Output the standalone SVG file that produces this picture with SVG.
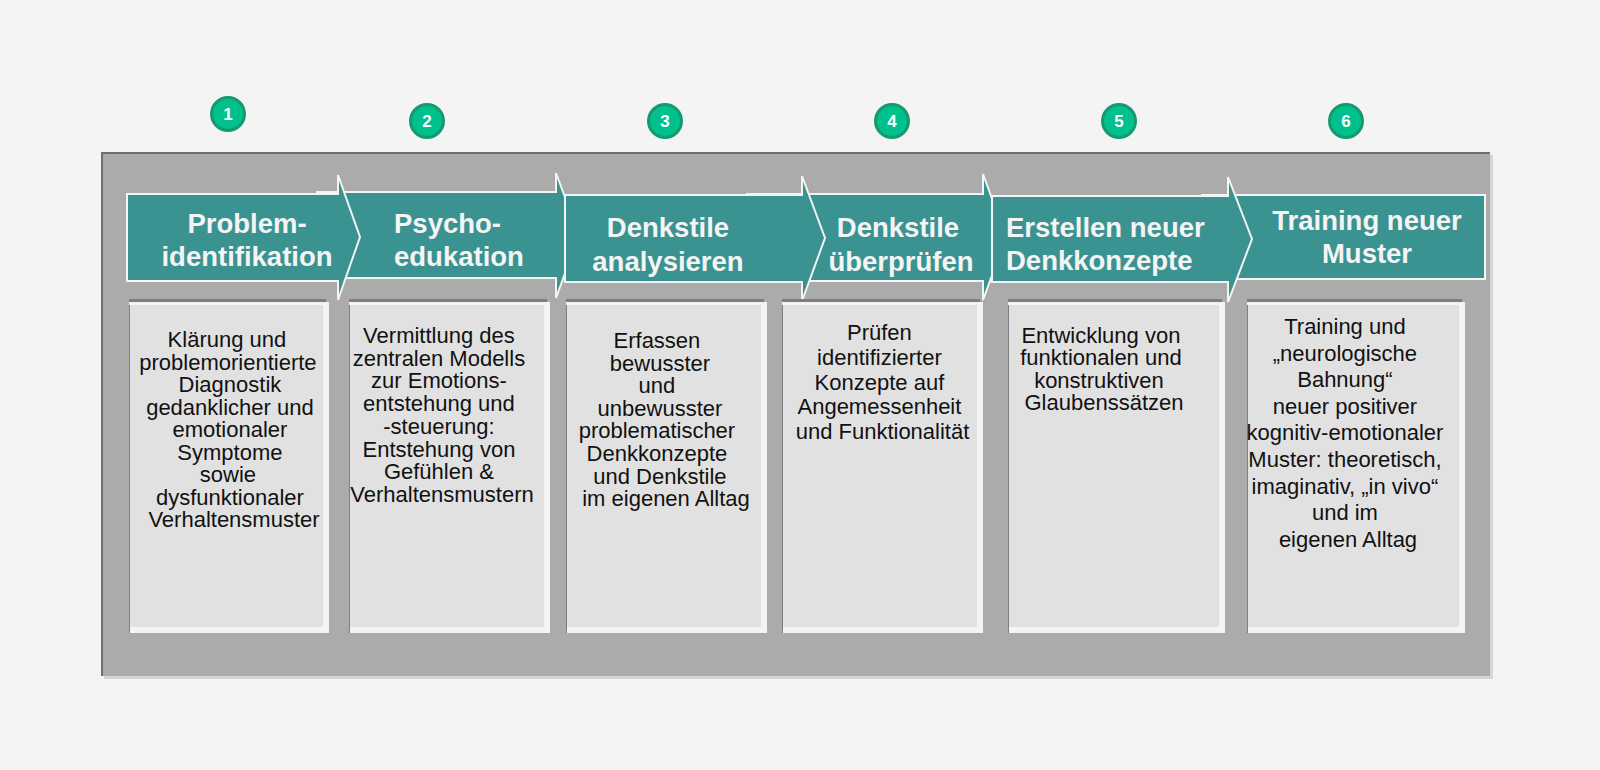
<svg xmlns="http://www.w3.org/2000/svg" width="1600" height="770" viewBox="0 0 1600 770">
<style>
.arrow{fill:#3a9390;stroke:#f4f4f4;stroke-width:2;stroke-linejoin:miter}
.head{font-family:"Liberation Sans",Arial,sans-serif;font-weight:bold;font-size:27.5px;fill:#f4f4f4}
.body{font-family:"Liberation Sans",Arial,sans-serif;font-size:22px;fill:#111}
.num{font-family:"Liberation Sans",Arial,sans-serif;font-weight:bold;font-size:17px;fill:#ffffff;text-anchor:middle}
.ring{fill:#00c08e;stroke:#159a6e;stroke-width:3}
.bar{fill:#7f7f7f}
.shadow{fill:#f4f4f4}
.card{fill:#e1e1e1}
.edge{fill:#808080}
</style>
<rect width="1600" height="770" fill="#f4f4f4"/>
<g id="panel">
<rect x="104" y="155" width="1389" height="524" fill="#d6d6d6"/>
<rect x="101" y="152" width="1389" height="524" fill="#ababab"/>
<rect x="101" y="152" width="1389" height="2" fill="#6f6f6f"/>
<rect x="101" y="152" width="2" height="524" fill="#6f6f6f"/>
</g>
<g id="connectors">
<polygon id="arrow2" class="arrow" points="317,192 556,192 556,173 579,235 556,298 556,278 317,278"/>
<polygon id="arrow4" class="arrow" points="747,194 983,194 983,174 1006,237 983,300 983,281 747,281"/>
<rect id="arrow6" class="arrow" x="1202" y="195" width="283" height="84"/>
<polygon id="arrow1" class="arrow" points="127,194 338,194 338,175 360,237 338,300 338,281 127,281"/>
<polygon id="arrow3" class="arrow" points="565,195 802,195 802,176 825,238 802,301 802,282 565,282"/>
<polygon id="arrow5" class="arrow" points="992,196 1228,196 1228,177 1252,239 1228,302 1228,282 992,282"/>
</g>
<g id="step1">
<circle class="ring" cx="228" cy="114" r="16.5"/>
<text class="num" x="228" y="120">1</text>
<text class="head" x="247" y="233" text-anchor="middle">Problem-</text>
<text class="head" x="247" y="266" text-anchor="middle">identifikation</text>
<rect class="bar" x="129" y="299" width="197" height="6"/>
<rect class="shadow" x="129" y="302" width="200" height="331"/>
<rect class="card" x="129" y="305" width="194" height="322"/>
<rect class="edge" x="129" y="305" width="1" height="328"/>
<text class="body" text-anchor="middle">
<tspan x="230" y="347">Klärung und</tspan>
<tspan x="231" y="369.5">problemorientierte</tspan>
<tspan x="233" y="392">Diagnostik</tspan>
<tspan x="233" y="414.5">gedanklicher und</tspan>
<tspan x="233" y="437">emotionaler</tspan>
<tspan x="233" y="459.5">Symptome</tspan>
<tspan x="231" y="482">sowie</tspan>
<tspan x="233" y="504.5">dysfunktionaler</tspan>
<tspan x="234" y="527">Verhaltensmuster</tspan>
</text>
</g>
<g id="step2">
<circle class="ring" cx="427" cy="121" r="16.5"/>
<text class="num" x="427" y="127">2</text>
<text class="head" x="394" y="233">Psycho-</text>
<text class="head" x="394" y="266">edukation</text>
<rect class="bar" x="349" y="299" width="198" height="6"/>
<rect class="shadow" x="349" y="302" width="201" height="331"/>
<rect class="card" x="349" y="305" width="195" height="322"/>
<rect class="edge" x="349" y="305" width="1" height="328"/>
<text class="body" text-anchor="middle">
<tspan x="442" y="343">Vermittlung des</tspan>
<tspan x="442" y="365.7">zentralen Modells</tspan>
<tspan x="442" y="388.4">zur Emotions-</tspan>
<tspan x="442" y="411.1">entstehung und</tspan>
<tspan x="442" y="433.8">-steuerung:</tspan>
<tspan x="442" y="456.5">Entstehung von</tspan>
<tspan x="442" y="479.2">Gefühlen &amp;</tspan>
<tspan x="442" y="501.9">Verhaltensmustern</tspan>
</text>
</g>
<g id="step3">
<circle class="ring" cx="665" cy="121" r="16.5"/>
<text class="num" x="665" y="127">3</text>
<text class="head" x="668" y="237" text-anchor="middle">Denkstile</text>
<text class="head" x="668" y="271" text-anchor="middle">analysieren</text>
<rect class="bar" x="566" y="299" width="198" height="6"/>
<rect class="shadow" x="566" y="302" width="201" height="331"/>
<rect class="card" x="566" y="305" width="195" height="322"/>
<rect class="edge" x="566" y="305" width="1" height="328"/>
<text class="body" text-anchor="middle">
<tspan x="660" y="348">Erfassen</tspan>
<tspan x="663" y="370.6">bewusster</tspan>
<tspan x="660" y="393.2">und</tspan>
<tspan x="663" y="415.8">unbewusster</tspan>
<tspan x="660" y="438.4">problematischer</tspan>
<tspan x="660" y="461">Denkkonzepte</tspan>
<tspan x="663" y="483.6">und Denkstile</tspan>
<tspan x="666" y="506.2">im eigenen Alltag</tspan>
</text>
</g>
<g id="step4">
<circle class="ring" cx="892" cy="121" r="16.5"/>
<text class="num" x="892" y="127">4</text>
<text class="head" x="898" y="237" text-anchor="middle">Denkstile</text>
<text class="head" x="901" y="271" text-anchor="middle">überprüfen</text>
<rect class="bar" x="782" y="299" width="198" height="6"/>
<rect class="shadow" x="782" y="302" width="201" height="331"/>
<rect class="card" x="782" y="305" width="195" height="322"/>
<rect class="edge" x="782" y="305" width="1" height="328"/>
<text class="body" text-anchor="middle">
<tspan x="882.5" y="340">Prüfen</tspan>
<tspan x="882.5" y="364.5">identifizierter</tspan>
<tspan x="882.5" y="389.5">Konzepte auf</tspan>
<tspan x="882.5" y="414">Angemessenheit</tspan>
<tspan x="882.5" y="439">und Funktionalität</tspan>
</text>
</g>
<g id="step5">
<circle class="ring" cx="1119" cy="121" r="16.5"/>
<text class="num" x="1119" y="127">5</text>
<text class="head" x="1006" y="237">Erstellen neuer</text>
<text class="head" x="1006" y="270">Denkkonzepte</text>
<rect class="bar" x="1008" y="299" width="214" height="6"/>
<rect class="shadow" x="1008" y="302" width="217" height="331"/>
<rect class="card" x="1008" y="305" width="211" height="322"/>
<rect class="edge" x="1008" y="305" width="1" height="328"/>
<text class="body" text-anchor="middle">
<tspan x="1104" y="343">Entwicklung von</tspan>
<tspan x="1104" y="365.4">funktionalen und</tspan>
<tspan x="1102" y="387.8">konstruktiven</tspan>
<tspan x="1104" y="410.2">Glaubenssätzen</tspan>
</text>
</g>
<g id="step6">
<circle class="ring" cx="1346" cy="121" r="16.5"/>
<text class="num" x="1346" y="127">6</text>
<text class="head" x="1367" y="230" text-anchor="middle">Training neuer</text>
<text class="head" x="1367" y="263" text-anchor="middle">Muster</text>
<rect class="bar" x="1247" y="299" width="215" height="6"/>
<rect class="shadow" x="1247" y="302" width="218" height="331"/>
<rect class="card" x="1247" y="305" width="212" height="322"/>
<rect class="edge" x="1247" y="305" width="1" height="328"/>
<text class="body" text-anchor="middle">
<tspan x="1348" y="334">Training und</tspan>
<tspan x="1348" y="360.6">„neurologische</tspan>
<tspan x="1348" y="387.2">Bahnung“</tspan>
<tspan x="1348" y="413.8">neuer positiver</tspan>
<tspan x="1348" y="440.4">kognitiv-emotionaler</tspan>
<tspan x="1348" y="467">Muster: theoretisch,</tspan>
<tspan x="1348" y="493.6">imaginativ, „in vivo“</tspan>
<tspan x="1348" y="520.2">und im</tspan>
<tspan x="1348" y="546.8">eigenen Alltag</tspan>
</text>
</g>
</svg>
